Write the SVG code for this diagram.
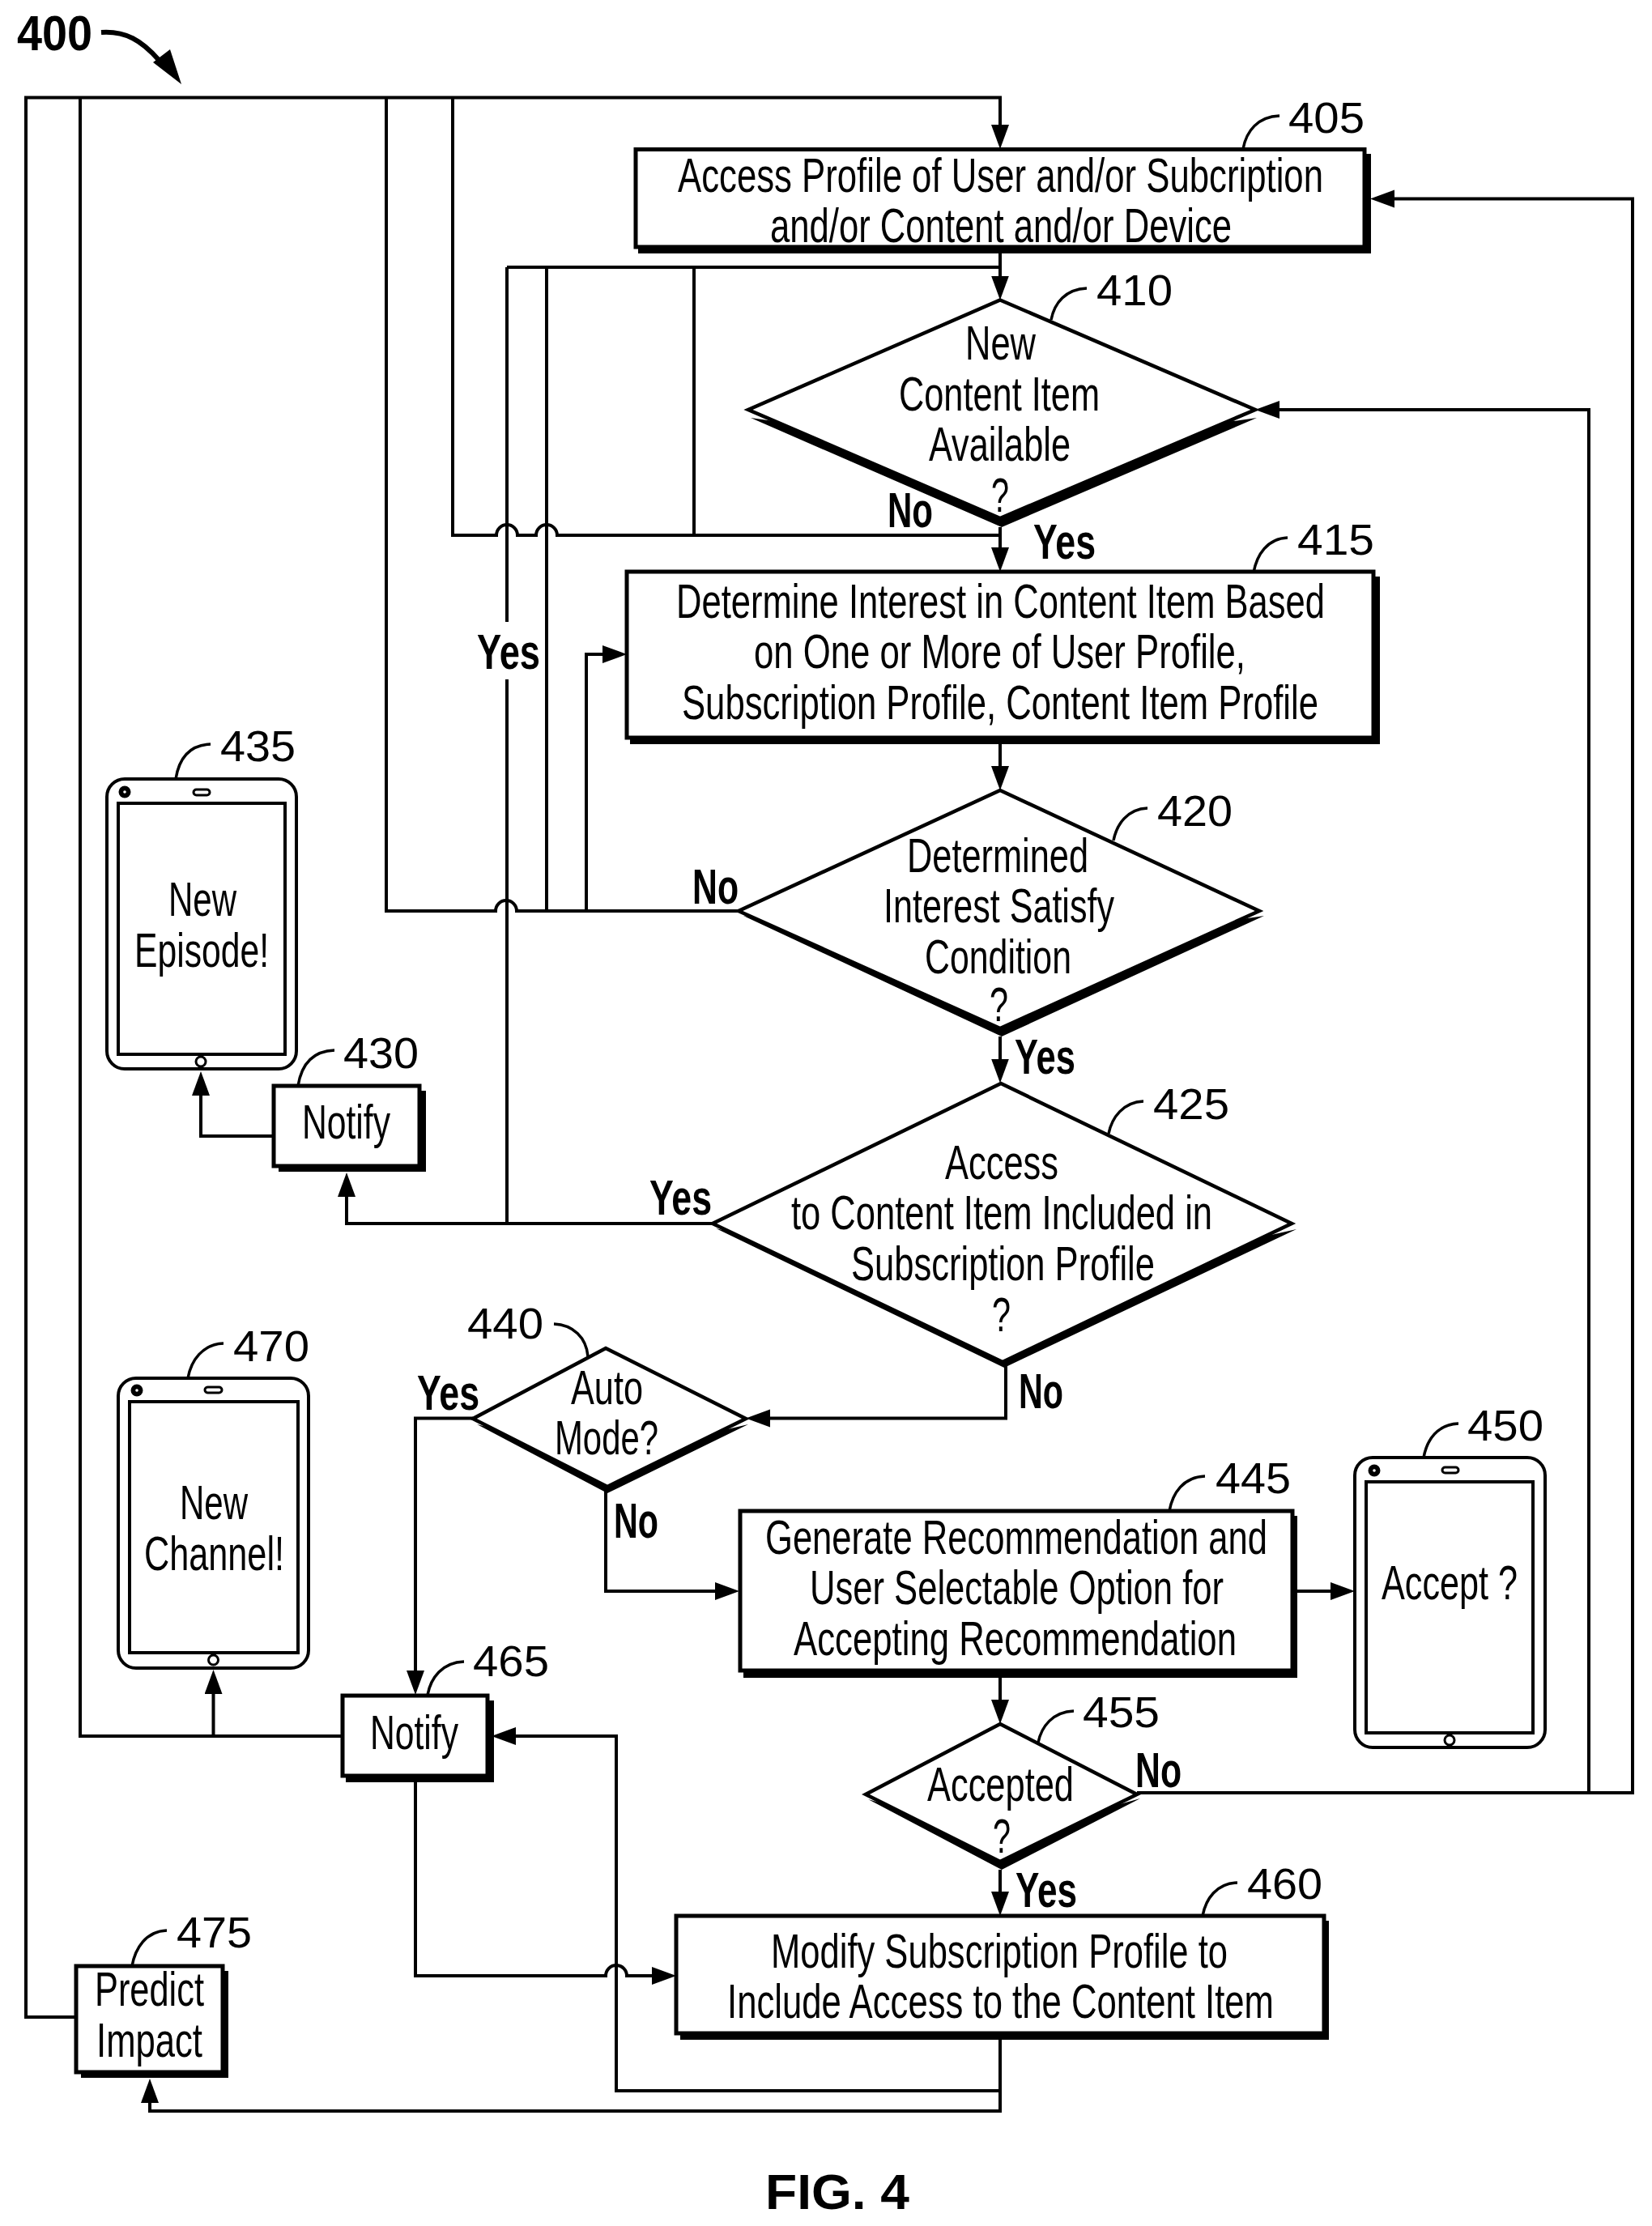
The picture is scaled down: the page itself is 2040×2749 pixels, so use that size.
<svg xmlns="http://www.w3.org/2000/svg" width="2040" height="2749" viewBox="0 0 2040 2749">
<style>
text{font-family:"Liberation Sans",Arial,sans-serif;fill:#000}
.t{font-size:60px}
.b{font-size:62px;font-weight:700}
.r{font-size:53px}
.box{fill:#fff;stroke:#000;stroke-width:5}
.sh{fill:#000;stroke:none}
.c{fill:none;stroke:#000;stroke-width:4;stroke-linejoin:miter}
.a{marker-end:url(#ah)}
.l{fill:none;stroke:#000;stroke-width:3.5}
.p{fill:#fff;stroke:#000;stroke-width:4}
.s{fill:#fff;stroke:#000;stroke-width:3}
.k{fill:#000}
.w{fill:#fff}
</style>
<defs>
<marker id="ah" markerUnits="userSpaceOnUse" markerWidth="32" markerHeight="24" refX="22" refY="11" orient="auto"><path d="M0 0L30 11L0 22z" fill="#000"/></marker>
</defs>
<rect width="2040" height="2749" fill="#fff"/>
<g id="n405">
<rect class="sh" x="788" y="190" width="905" height="123"/>
<rect class="box" x="785" y="184.500" width="900" height="120.500"/>
<text class="t" x="837" y="237" textLength="797" lengthAdjust="spacingAndGlyphs">Access Profile of User and/or Subcription</text>
<text class="t" x="951" y="299" textLength="570" lengthAdjust="spacingAndGlyphs">and/or Content and/or Device</text>
<path class="l" d="M1535 184C1539 162 1553 144 1580 143"/>
<text class="r" x="1591" y="164" textLength="94" lengthAdjust="spacingAndGlyphs">405</text>
</g>
<g id="n410">
<polygon class="sh" points="927,516 1237,651 1552,516 1235,560"/>
<polygon class="box" points="1235,370.500 1550,506 1235,640 924,506" style="stroke-width:4.500"/>
<text class="t" x="1192" y="444" textLength="87" lengthAdjust="spacingAndGlyphs">New</text>
<text class="t" x="1110" y="507" textLength="248" lengthAdjust="spacingAndGlyphs">Content Item</text>
<text class="t" x="1147" y="569" textLength="175" lengthAdjust="spacingAndGlyphs">Available</text>
<text class="t" x="1224" y="632" textLength="22" lengthAdjust="spacingAndGlyphs">?</text>
<path class="l" d="M1298 395C1302 374 1316 357 1342 356"/>
<text class="r" x="1354" y="377" textLength="94" lengthAdjust="spacingAndGlyphs">410</text>
</g>
<g id="n415">
<rect class="sh" x="778" y="712" width="926" height="207"/>
<rect class="box" x="774" y="706" width="922" height="205"/>
<text class="t" x="835" y="763" textLength="801" lengthAdjust="spacingAndGlyphs">Determine Interest in Content Item Based</text>
<text class="t" x="931" y="825" textLength="607" lengthAdjust="spacingAndGlyphs">on One or More of User Profile,</text>
<text class="t" x="842" y="888" textLength="786" lengthAdjust="spacingAndGlyphs">Subscription Profile, Content Item Profile</text>
<path class="l" d="M1548 707C1552 685 1565 665 1590 664"/>
<text class="r" x="1602" y="685" textLength="95" lengthAdjust="spacingAndGlyphs">415</text>
</g>
<g id="n420">
<polygon class="sh" points="918,1131 1237,1280 1561,1131 1235,1180"/>
<polygon class="box" points="1235,976 1555,1125 1235,1270 912,1125" style="stroke-width:4.500"/>
<text class="t" x="1120" y="1077" textLength="224" lengthAdjust="spacingAndGlyphs">Determined</text>
<text class="t" x="1091" y="1139" textLength="285" lengthAdjust="spacingAndGlyphs">Interest Satisfy</text>
<text class="t" x="1142" y="1202" textLength="181" lengthAdjust="spacingAndGlyphs">Condition</text>
<text class="t" x="1222" y="1261" textLength="23" lengthAdjust="spacingAndGlyphs">?</text>
<path class="l" d="M1375 1038C1379 1018 1392 999 1417 998"/>
<text class="r" x="1429" y="1020" textLength="93" lengthAdjust="spacingAndGlyphs">420</text>
</g>
<g id="n425">
<polygon class="sh" points="884,1517 1240,1689 1601,1518 1238,1600"/>
<polygon class="box" points="1236,1338 1595,1511 1238,1682 880,1511" style="stroke-width:4.500"/>
<text class="t" x="1167" y="1456" textLength="140" lengthAdjust="spacingAndGlyphs">Access</text>
<text class="t" x="977" y="1518" textLength="520" lengthAdjust="spacingAndGlyphs">to Content Item Included in</text>
<text class="t" x="1051" y="1581" textLength="375" lengthAdjust="spacingAndGlyphs">Subscription Profile</text>
<text class="t" x="1225" y="1644" textLength="23" lengthAdjust="spacingAndGlyphs">?</text>
<path class="l" d="M1369 1400C1373 1380 1387 1361 1412 1360"/>
<text class="r" x="1424" y="1382" textLength="94" lengthAdjust="spacingAndGlyphs">425</text>
</g>
<g id="n430">
<rect class="sh" x="344" y="1347" width="182" height="100"/>
<rect class="box" x="338" y="1341" width="180" height="99"/>
<text class="t" x="373" y="1406" textLength="109" lengthAdjust="spacingAndGlyphs">Notify</text>
<path class="l" d="M368 1341C372 1316 385 1298 413 1297"/>
<text class="r" x="424" y="1319" textLength="93" lengthAdjust="spacingAndGlyphs">430</text>
</g>
<g id="n435">
<rect class="p" x="132" y="962" width="234" height="358" rx="22"/>
<rect class="p" x="146" y="992" width="206" height="310"/>
<circle class="k" cx="154" cy="978" r="7.500"/><circle class="w" cx="154" cy="978" r="1.800"/>
<rect class="s" x="239" y="975" width="20" height="7" rx="3.500"/>
<circle class="s" cx="248" cy="1311" r="6"/>
<text class="t" x="208" y="1131" textLength="84" lengthAdjust="spacingAndGlyphs">New</text>
<text class="t" x="166" y="1194" textLength="166" lengthAdjust="spacingAndGlyphs">Episode!</text>
<path class="l" d="M217 962C221 937 233 920 260 919"/>
<text class="r" x="272" y="940" textLength="93" lengthAdjust="spacingAndGlyphs">435</text>
</g>
<g id="n440">
<polygon class="sh" points="589,1759 750,1844 924,1759 750,1800"/>
<polygon class="box" points="748,1665 921,1752 750,1836 584,1752" style="stroke-width:4.500"/>
<text class="t" x="705" y="1734" textLength="89" lengthAdjust="spacingAndGlyphs">Auto</text>
<text class="t" x="685" y="1796" textLength="128" lengthAdjust="spacingAndGlyphs">Mode?</text>
<path class="l" d="M726 1675C724 1652 708 1636 684 1635"/>
<text class="r" x="577" y="1653" textLength="94" lengthAdjust="spacingAndGlyphs">440</text>
</g>
<g id="n445">
<rect class="sh" x="918" y="1872" width="684" height="200"/>
<rect class="box" x="914" y="1866" width="682" height="197"/>
<text class="t" x="945" y="1919" textLength="620" lengthAdjust="spacingAndGlyphs">Generate Recommendation and</text>
<text class="t" x="1000" y="1981" textLength="511" lengthAdjust="spacingAndGlyphs">User Selectable Option for</text>
<text class="t" x="980" y="2044" textLength="547" lengthAdjust="spacingAndGlyphs">Accepting Recommendation</text>
<path class="l" d="M1444 1866C1448 1844 1461 1824 1488 1823"/>
<text class="r" x="1501" y="1844" textLength="93" lengthAdjust="spacingAndGlyphs">445</text>
</g>
<g id="n450">
<rect class="p" x="1673" y="1800" width="235" height="358" rx="22"/>
<rect class="p" x="1687" y="1830" width="206" height="310"/>
<circle class="k" cx="1697" cy="1816" r="7.500"/><circle class="w" cx="1697" cy="1816" r="1.800"/>
<rect class="s" x="1781" y="1812" width="20" height="7" rx="3.500"/>
<circle class="s" cx="1790" cy="2149" r="6"/>
<text class="t" x="1706" y="1975" textLength="168" lengthAdjust="spacingAndGlyphs">Accept ?</text>
<path class="l" d="M1758 1800C1762 1778 1775 1759 1801 1758"/>
<text class="r" x="1812" y="1779" textLength="94" lengthAdjust="spacingAndGlyphs">450</text>
</g>
<g id="n455">
<polygon class="sh" points="1072,2222 1237,2309 1408,2221 1235,2270"/>
<polygon class="box" points="1235,2129 1404,2216 1235,2299 1069,2216" style="stroke-width:4.500"/>
<text class="t" x="1145" y="2224" textLength="181" lengthAdjust="spacingAndGlyphs">Accepted</text>
<text class="t" x="1226" y="2288" textLength="22" lengthAdjust="spacingAndGlyphs">?</text>
<path class="l" d="M1282 2152C1286 2132 1300 2114 1326 2113"/>
<text class="r" x="1337" y="2133" textLength="95" lengthAdjust="spacingAndGlyphs">455</text>
</g>
<g id="n460">
<rect class="sh" x="840" y="2372" width="801" height="147"/>
<rect class="box" x="835" y="2366" width="800" height="145"/>
<text class="t" x="952" y="2430" textLength="564" lengthAdjust="spacingAndGlyphs">Modify Subscription Profile to</text>
<text class="t" x="898" y="2492" textLength="675" lengthAdjust="spacingAndGlyphs">Include Access to the Content Item</text>
<path class="l" d="M1485 2366C1489 2345 1502 2326 1528 2325"/>
<text class="r" x="1540" y="2345" textLength="93" lengthAdjust="spacingAndGlyphs">460</text>
</g>
<g id="n465">
<rect class="sh" x="427" y="2100" width="183" height="101"/>
<rect class="box" x="423" y="2094" width="179" height="99"/>
<text class="t" x="457" y="2160" textLength="109" lengthAdjust="spacingAndGlyphs">Notify</text>
<path class="l" d="M528 2093C532 2072 546 2053 573 2052"/>
<text class="r" x="584" y="2070" textLength="94" lengthAdjust="spacingAndGlyphs">465</text>
</g>
<g id="n470">
<rect class="p" x="146" y="1702" width="235" height="358" rx="22"/>
<rect class="p" x="160" y="1731" width="208" height="310"/>
<circle class="k" cx="169" cy="1717" r="7.500"/><circle class="w" cx="169" cy="1717" r="1.800"/>
<rect class="s" x="253" y="1713" width="21" height="7" rx="3.500"/>
<circle class="s" cx="263.500" cy="2050" r="6"/>
<text class="t" x="222" y="1876" textLength="84" lengthAdjust="spacingAndGlyphs">New</text>
<text class="t" x="178" y="1939" textLength="173" lengthAdjust="spacingAndGlyphs">Channel!</text>
<path class="l" d="M232 1702C236 1680 250 1660 276 1659"/>
<text class="r" x="288" y="1681" textLength="94" lengthAdjust="spacingAndGlyphs">470</text>
</g>
<g id="n475">
<rect class="sh" x="100" y="2434" width="182" height="132"/>
<rect class="box" x="94" y="2428" width="181" height="131"/>
<text class="t" x="117" y="2477" textLength="135" lengthAdjust="spacingAndGlyphs">Predict</text>
<text class="t" x="119" y="2540" textLength="131" lengthAdjust="spacingAndGlyphs">Impact</text>
<path class="l" d="M163 2428C167 2406 180 2385 206 2384"/>
<text class="r" x="218" y="2405" textLength="93" lengthAdjust="spacingAndGlyphs">475</text>
</g>
<g id="connectors">
<path class="c a" d="M94 2491H32V120.500H1235V176"/>
<path class="c" d="M99 120V2144H423"/>
<path class="c a" d="M263.500 2144V2070"/>
<path class="c" d="M477 120V1125H612a13 13 0 0 1 26 0H912"/>
<path class="c" d="M559 120V661H613a13 13 0 0 1 26 0H662a13 13 0 0 1 26 0H1235"/>
<path class="c" d="M626 330V768M626 839V1511"/>
<path class="c" d="M1235 330H626M675 330V1125M857 330V661"/>
<path class="c a" d="M1235 313V362.500"/>
<path class="c a" d="M1235 651V698"/>
<path class="c a" d="M1235 919V968"/>
<path class="c a" d="M1235 1280V1329.500"/>
<path class="c a" d="M724 1125V808H766"/>
<path class="c a" d="M880 1511H428V1456"/>
<path class="c a" d="M338 1403H248V1331"/>
<path class="c a" d="M1242 1686V1751.500H929"/>
<path class="c a" d="M584 1751.500H513V2085"/>
<path class="c a" d="M513 2201V2440H748a13 13 0 0 1 26 0H827"/>
<path class="c a" d="M748 1836V1965H905"/>
<path class="c a" d="M1602 1965H1665"/>
<path class="c a" d="M1235 2072V2121"/>
<path class="c a" d="M1235 2309V2358"/>
<path class="c a" d="M1235 2519V2607H185V2575"/>
<path class="c a" d="M1235 2582H761V2144H615"/>
<path class="c a" d="M1404 2214H2016V245.500H1700"/>
<path class="c a" d="M1962 2214V506H1558"/>
<path d="M125 40C155 38 175 50 196 74" fill="none" stroke="#000" stroke-width="6"/>
<polygon class="sh" points="224,104 189,77 210,61"/>
</g>
<g id="labels">
<text class="b" x="21" y="62" textLength="93" lengthAdjust="spacingAndGlyphs">400</text>
<text class="b" x="1096" y="651" textLength="56" lengthAdjust="spacingAndGlyphs">No</text>
<text class="b" x="1276" y="690" textLength="77" lengthAdjust="spacingAndGlyphs">Yes</text>
<text class="b" x="589" y="826" textLength="78" lengthAdjust="spacingAndGlyphs">Yes</text>
<text class="b" x="855" y="1116" textLength="57" lengthAdjust="spacingAndGlyphs">No</text>
<text class="b" x="1253" y="1326" textLength="75" lengthAdjust="spacingAndGlyphs">Yes</text>
<text class="b" x="802" y="1500" textLength="77" lengthAdjust="spacingAndGlyphs">Yes</text>
<text class="b" x="1258" y="1739" textLength="55" lengthAdjust="spacingAndGlyphs">No</text>
<text class="b" x="515" y="1741" textLength="77" lengthAdjust="spacingAndGlyphs">Yes</text>
<text class="b" x="758" y="1899" textLength="55" lengthAdjust="spacingAndGlyphs">No</text>
<text class="b" x="1402" y="2207" textLength="57" lengthAdjust="spacingAndGlyphs">No</text>
<text class="b" x="1254" y="2355" textLength="76" lengthAdjust="spacingAndGlyphs">Yes</text>
<text class="b" x="945" y="2728" textLength="178" lengthAdjust="spacingAndGlyphs">FIG. 4</text>
</g>
</svg>
